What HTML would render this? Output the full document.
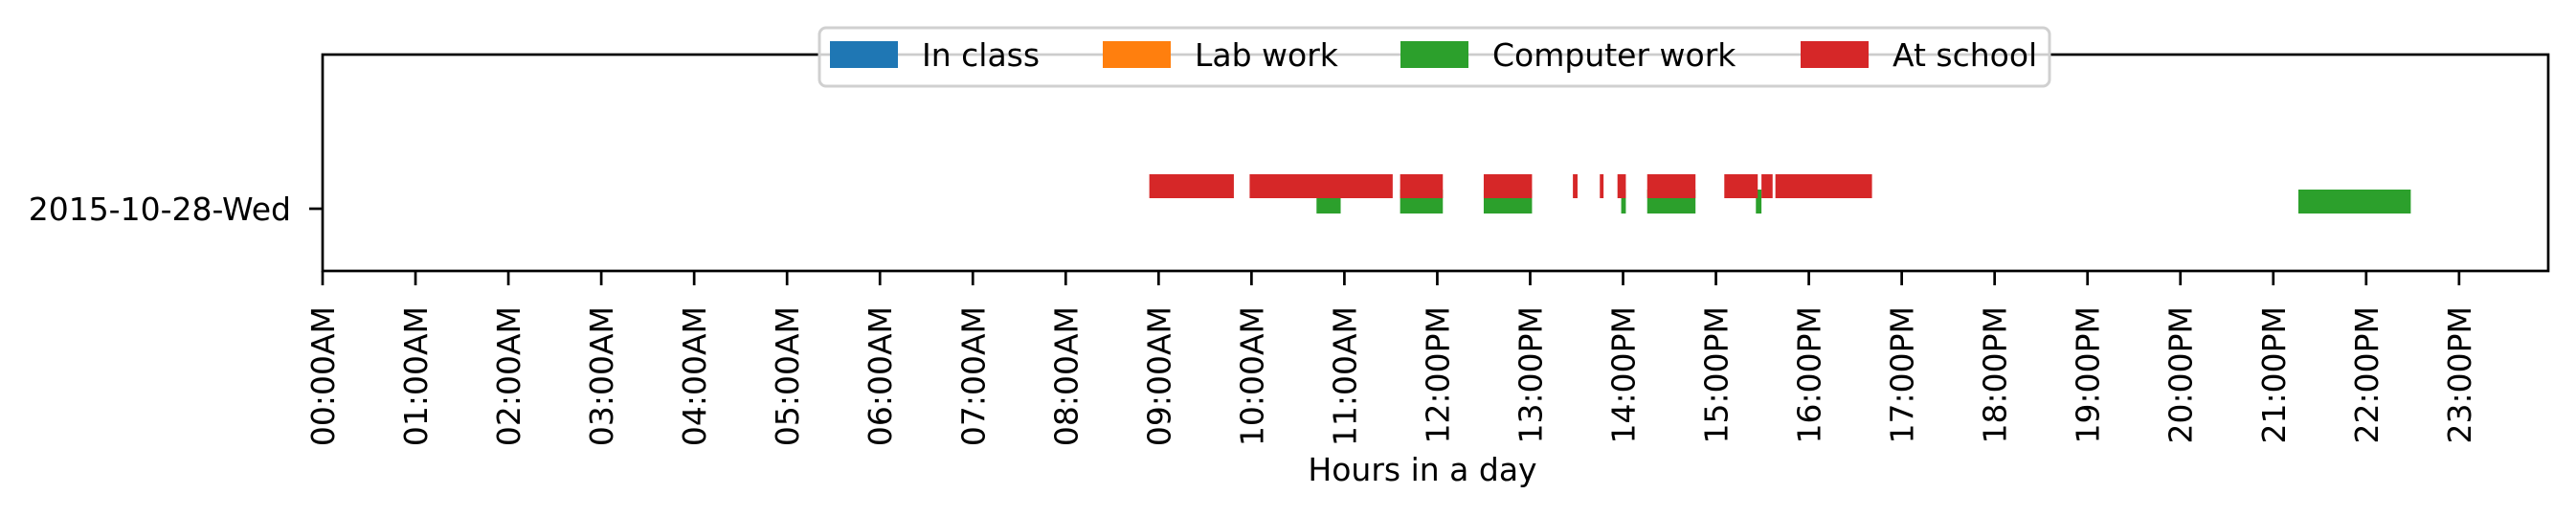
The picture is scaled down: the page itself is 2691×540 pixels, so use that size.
<!DOCTYPE html>
<html><head><meta charset="utf-8"><style>
html,body{margin:0;padding:0;background:#fff;}
svg{display:block;font-family:"DejaVu Sans","Liberation Sans",sans-serif;}
</style></head><body>
<svg id="chart" width="2691" height="540" viewBox="0 0 2691 540" xmlns="http://www.w3.org/2000/svg">
<rect x="0" y="0" width="2691" height="540" fill="#fff"/>
<g id="marks"></g>
<g id="axes"></g>
<g id="legend"></g>
</svg>
<script>
const categories = ["2015-10-28-Wed"];
const schoolStart = [8.90, 9.98, 11.60, 12.50, 13.46, 13.75, 13.94, 14.26, 15.09, 15.49, 15.64];
const schoolEnd   = [9.81, 11.52, 12.06, 13.02, 13.51, 13.79, 14.03, 14.78, 15.45, 15.61, 16.68];
const computerStart = [10.70, 11.60, 12.50, 13.98, 14.26, 15.43, 21.27];
const computerEnd   = [10.96, 12.06, 13.02, 14.03, 14.78, 15.49, 22.48];
const tickHours = [0,1,2,3,4,5,6,7,8,9,10,11,12,13,14,15,16,17,18,19,20,21,22,23];
const tickLabels = ["00:00AM","01:00AM","02:00AM","03:00AM","04:00AM","05:00AM","06:00AM","07:00AM","08:00AM","09:00AM","10:00AM","11:00AM","12:00PM","13:00PM","14:00PM","15:00PM","16:00PM","17:00PM","18:00PM","19:00PM","20:00PM","21:00PM","22:00PM","23:00PM"];
const legendLabels = ["In class","Lab work","Computer work","At school"];
const legendColors = ["#1f77b4","#ff7f0e","#2ca02c","#d62728"];

const NS = "http://www.w3.org/2000/svg";
const L = 337, R = 2662, T = 57, B = 283, XMIN = 0, XMAX = 23.96;
function xs(h){ return L + (h - XMIN) / (XMAX - XMIN) * (R - L); }
const rowY = 218;
function mk(tag, attrs, parent){ const e = document.createElementNS(NS, tag); for (const k in attrs) e.setAttribute(k, attrs[k]); parent.appendChild(e); return e; }

const marks = document.getElementById('marks');
for (let i = 0; i < computerStart.length; i++) {
  const r = mk('rect', {x: xs(computerStart[i]), y: 198, width: Math.max(1, xs(computerEnd[i]) - xs(computerStart[i])), height: 25, fill: '#2ca02c'}, marks);
  
  
}
for (let i = 0; i < schoolStart.length; i++) {
  const r = mk('rect', {x: xs(schoolStart[i]), y: 182, width: Math.max(1, xs(schoolEnd[i]) - xs(schoolStart[i])), height: 25, fill: '#d62728'}, marks);
  
  
}

const ax = document.getElementById('axes');
const frame = mk('rect', {x: L, y: T, width: R - L, height: B - T, fill: 'none', stroke: '#000', 'stroke-width': 2.7}, ax);


const yt = mk('line', {x1: L - 14, y1: rowY, x2: L, y2: rowY, stroke: '#000', 'stroke-width': 2.7}, ax);


const yl = mk('text', {x: L - 33, y: rowY + 12, 'font-size': 33, 'text-anchor': 'end', fill: '#000'}, ax);
yl.textContent = categories[0];


for (let i = 0; i < tickHours.length; i++) {
  const x = xs(tickHours[i]);
  const t = mk('line', {x1: x, y1: B, x2: x, y2: B + 15, stroke: '#000', 'stroke-width': 2.7}, ax);
  
  
  const tx = mk('text', {x: 0, y: 0, 'font-size': 33, 'text-anchor': 'end', fill: '#000', transform: `translate(${x + 12},320) rotate(-90)`}, ax);
  tx.textContent = tickLabels[i];
  
  
}
const xl = mk('text', {x: 1486, y: 502, 'font-size': 33, 'text-anchor': 'middle', fill: '#000'}, ax);
xl.textContent = 'Hours in a day';



const lg = document.getElementById('legend');
const box = mk('rect', {x: 856, y: 29, width: 1285, height: 61, rx: 7, fill: 'rgba(255,255,255,0.8)', stroke: '#d0d0d0', 'stroke-width': 3}, lg);


const patchX = [867, 1152, 1463, 1881];
for (let i = 0; i < legendLabels.length; i++) {
  const g = mk('g', {}, lg);
  
  
  const p = mk('rect', {x: patchX[i], y: 43, width: 71, height: 28, fill: legendColors[i]}, g);
  
  
  const t = mk('text', {x: patchX[i] + 96, y: 69, 'font-size': 33, fill: '#000'}, g);
  t.textContent = legendLabels[i];
  
  
}
</script>
</body></html>
